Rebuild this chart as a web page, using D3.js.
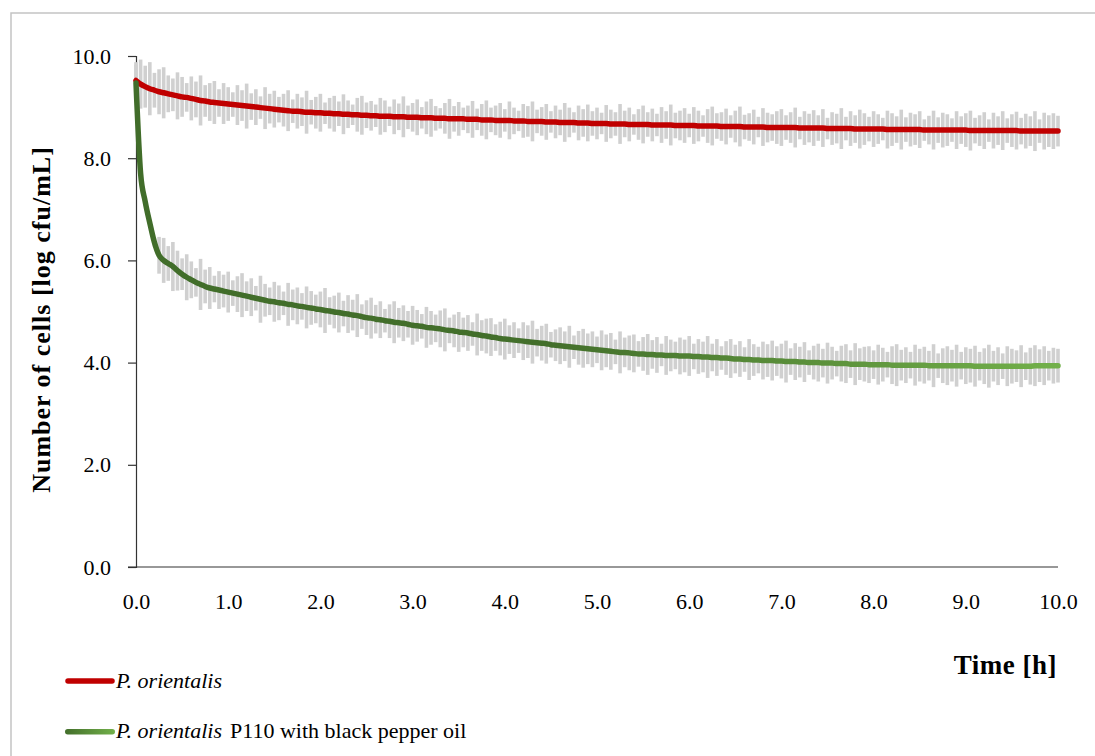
<!DOCTYPE html>
<html>
<head>
<meta charset="utf-8">
<script src="https://cdn.jsdelivr.net/npm/d3@7"></script>
<style>
  body { margin: 0; background: #fff; }
  svg { display: block; }
  svg text { font-family: "Liberation Serif", "Times New Roman", serif; }
</style>
</head>
<body>
<svg width="1095" height="756"></svg>
<script>
// one reading every 0.05 h (3 min), 0.0 .. 10.0 h
var stepH = 0.05;

// P. orientalis (control), log cfu/mL
var controlMean = [
  9.52, 9.45, 9.40, 9.36, 9.33, 9.30, 9.28, 9.26, 9.24, 9.22, 9.20, 9.19, 9.17, 9.15, 9.13, 9.12, 9.10, 9.09, 9.08, 9.07,
  9.06, 9.05, 9.04, 9.03, 9.02, 9.01, 9.00, 8.99, 8.98, 8.97, 8.96, 8.95, 8.94, 8.93, 8.92, 8.92, 8.91, 8.90, 8.90, 8.89,
  8.89, 8.88, 8.88, 8.87, 8.87, 8.86, 8.86, 8.85, 8.85, 8.84, 8.84, 8.83, 8.83, 8.82, 8.82, 8.82, 8.81, 8.81, 8.81, 8.80,
  8.80, 8.80, 8.79, 8.79, 8.79, 8.78, 8.78, 8.78, 8.77, 8.77, 8.77, 8.77, 8.76, 8.76, 8.76, 8.75, 8.75, 8.75, 8.74, 8.74,
  8.74, 8.74, 8.73, 8.73, 8.73, 8.72, 8.72, 8.72, 8.72, 8.71, 8.71, 8.71, 8.70, 8.70, 8.70, 8.70, 8.69, 8.69, 8.69, 8.68,
  8.68, 8.68, 8.68, 8.67, 8.67, 8.67, 8.67, 8.66, 8.66, 8.66, 8.66, 8.66, 8.65, 8.65, 8.65, 8.65, 8.65, 8.64, 8.64, 8.64,
  8.64, 8.64, 8.63, 8.63, 8.63, 8.63, 8.63, 8.62, 8.62, 8.62, 8.62, 8.62, 8.61, 8.61, 8.61, 8.61, 8.61, 8.60, 8.60, 8.60,
  8.60, 8.60, 8.60, 8.60, 8.59, 8.59, 8.59, 8.59, 8.59, 8.59, 8.58, 8.58, 8.58, 8.58, 8.58, 8.58, 8.57, 8.57, 8.57, 8.57,
  8.57, 8.57, 8.57, 8.56, 8.56, 8.56, 8.56, 8.56, 8.56, 8.56, 8.56, 8.55, 8.55, 8.55, 8.55, 8.55, 8.55, 8.55, 8.55, 8.55,
  8.55, 8.54, 8.54, 8.54, 8.54, 8.54, 8.54, 8.54, 8.54, 8.54, 8.54, 8.54, 8.53, 8.53, 8.53, 8.53, 8.53, 8.53, 8.53, 8.53,
  8.53
];
// standard deviation, hundredths of log cfu/mL
var controlSd = [
  36, 48, 41, 52, 34, 44, 50, 36, 32, 46, 39, 28, 43, 35, 49, 31, 37, 42, 27, 40,
  33, 24, 39, 30, 44, 26, 35, 22, 41, 29, 36, 25, 32, 40, 23, 34, 28, 42, 24, 31,
  37, 21, 30, 35, 24, 39, 27, 20, 33, 38, 25, 29, 22, 36, 31, 19, 34, 26, 40, 23,
  28, 35, 21, 32, 37, 24, 20, 30, 39, 25, 33, 22, 27, 36, 21, 31, 38, 24, 29, 34,
  22, 37, 26, 20, 33, 30, 39, 23, 28, 35, 21, 32, 25, 38, 29, 20, 34, 27, 36, 24,
  31, 21, 36, 28, 23, 39, 26, 33, 20, 30, 37, 24, 32, 22, 35, 27, 40, 25, 29, 34,
  23, 36, 30, 21, 33, 38, 25, 28, 35, 22, 31, 39, 24, 27, 34, 20, 37, 29, 26, 32,
  36, 24, 30, 39, 22, 33, 28, 35, 25, 37, 21, 32, 29, 40, 23, 34, 27, 38, 31, 24,
  35, 29, 22, 37, 32, 26, 39, 24, 33, 30, 36, 21, 28, 38, 25, 34, 31, 23, 37, 27,
  33, 39, 25, 30, 36, 22, 35, 28, 38, 24, 32, 37, 26, 34, 29, 39, 23, 36, 31, 35,
  30
];

// P. orientalis P110 with black pepper oil
var oilMean = [
  9.47, 7.70, 7.15, 6.73, 6.35, 6.10, 6.00, 5.94, 5.88, 5.80, 5.73, 5.67, 5.62, 5.57, 5.53, 5.49, 5.46, 5.44, 5.42, 5.40,
  5.38, 5.36, 5.34, 5.32, 5.30, 5.28, 5.26, 5.24, 5.22, 5.20, 5.19, 5.17, 5.16, 5.14, 5.13, 5.11, 5.10, 5.08, 5.07, 5.05,
  5.04, 5.02, 5.01, 4.99, 4.98, 4.96, 4.95, 4.93, 4.92, 4.90, 4.88, 4.87, 4.85, 4.84, 4.82, 4.81, 4.79, 4.78, 4.77, 4.75,
  4.73, 4.72, 4.71, 4.69, 4.68, 4.67, 4.66, 4.64, 4.63, 4.62, 4.60, 4.59, 4.58, 4.56, 4.55, 4.53, 4.52, 4.50, 4.49, 4.47,
  4.46, 4.45, 4.44, 4.43, 4.42, 4.41, 4.40, 4.39, 4.38, 4.37, 4.35, 4.34, 4.33, 4.32, 4.31, 4.30, 4.29, 4.28, 4.27, 4.26,
  4.25, 4.24, 4.23, 4.22, 4.21, 4.20, 4.20, 4.19, 4.18, 4.17, 4.17, 4.16, 4.16, 4.15, 4.15, 4.14, 4.14, 4.14, 4.13, 4.13,
  4.13, 4.12, 4.12, 4.11, 4.11, 4.10, 4.10, 4.09, 4.09, 4.08, 4.07, 4.07, 4.06, 4.06, 4.05, 4.05, 4.04, 4.04, 4.04, 4.03,
  4.03, 4.02, 4.02, 4.02, 4.01, 4.01, 4.00, 4.00, 4.00, 3.99, 3.99, 3.99, 3.98, 3.98, 3.98, 3.97, 3.97, 3.97, 3.97, 3.96,
  3.96, 3.96, 3.96, 3.96, 3.95, 3.95, 3.95, 3.95, 3.95, 3.95, 3.95, 3.95, 3.94, 3.94, 3.94, 3.94, 3.94, 3.94, 3.94, 3.94,
  3.94, 3.94, 3.93, 3.93, 3.93, 3.93, 3.93, 3.93, 3.93, 3.93, 3.93, 3.93, 3.93, 3.93, 3.93, 3.94, 3.94, 3.94, 3.94, 3.94,
  3.94
];
var oilSd = [
  36, 5, 5, 5, 8, 36, 44, 34, 48, 39, 31, 45, 36, 28, 50, 33, 41, 26, 37, 32,
  40, 25, 35, 43, 29, 37, 24, 46, 32, 27, 39, 34, 23, 42, 30, 36, 26, 41, 33, 28,
  35, 44, 27, 32, 39, 25, 37, 30, 42, 24, 34, 40, 28, 36, 23, 33, 41, 29, 35, 26,
  38, 31, 24, 40, 33, 27, 36, 42, 25, 32, 39, 29, 35, 23, 41, 30, 34, 37, 26, 33,
  40, 28, 35, 24, 37, 32, 42, 27, 34, 39, 25, 31, 36, 29, 41, 23, 33, 38, 30, 35,
  26, 39, 32, 36, 24, 41, 29, 34, 37, 25, 33, 40, 28, 35, 22, 38, 31, 27, 36, 32,
  39, 25, 34, 30, 41, 27, 36, 23, 33, 38, 28, 35, 24, 40, 31, 26, 37, 32, 39, 29,
  34, 41, 26, 36, 30, 39, 24, 33, 37, 28, 40, 32, 25, 35, 38, 27, 41, 31, 34, 36,
  28, 39, 33, 25, 37, 41, 30, 35, 26, 40, 32, 36, 29, 42, 24, 34, 38, 31, 41, 27,
  36, 33, 40, 28, 35, 42, 30, 37, 25, 39, 34, 31, 41, 27, 36, 40, 32, 38, 29, 35,
  33
];

var yTicks = [0, 2, 4, 6, 8, 10];
var xTicks = [0, 1, 2, 3, 4, 5, 6, 7, 8, 9, 10];

var svg = d3.select("svg"),
    margin = {top: 56, left: 136},
    width = 922,
    height = 511,
    g = svg.append("g").attr("transform", "translate(" + margin.left + "," + margin.top + ")");

// outer chart frame (runs off the right and bottom of the picture)
svg.append("rect")
    .attr("x", 11).attr("y", 13)
    .attr("width", 1200).attr("height", 900)
    .attr("fill", "none")
    .attr("stroke", "#c4c4c4")
    .attr("stroke-width", 1.5);

var x = d3.scaleLinear().domain([0, 10]).range([0, width]),
    y = d3.scaleLinear().domain([0, 10]).range([height, 0]);

function toRows(mean, sd) {
  return mean.map(function(m, i) { return {t: i * stepH, v: m, sd: sd[i] / 100}; });
}
var control = toRows(controlMean, controlSd),
    oil = toRows(oilMean, oilSd);

// gradient for the treated series
var defs = svg.append("defs");
var grad = defs.append("linearGradient")
    .attr("id", "greenGrad")
    .attr("gradientUnits", "userSpaceOnUse")
    .attr("x1", 0).attr("x2", width).attr("y1", 0).attr("y2", 0);
grad.append("stop").attr("offset", "0").attr("stop-color", "#416d2a");
grad.append("stop").attr("offset", "0.45").attr("stop-color", "#436f2b");
grad.append("stop").attr("offset", "1").attr("stop-color", "#72b04a");

var legGrad = defs.append("linearGradient").attr("id", "legGrad");
legGrad.append("stop").attr("offset", "0").attr("stop-color", "#436f2b");
legGrad.append("stop").attr("offset", "1").attr("stop-color", "#72b04a");

// y axis
var yAxis = g.append("g")
    .call(d3.axisLeft(y).tickValues(yTicks).tickSize(8).tickPadding(17).tickFormat(d3.format(".1f")));
yAxis.attr("font-family", null).attr("font-size", null);
yAxis.select(".domain").attr("stroke", "#333").attr("stroke-width", 1.2);
yAxis.selectAll(".tick line").attr("stroke", "#333").attr("stroke-width", 1.2);
yAxis.selectAll("text").attr("font-size", 22).attr("fill", "#000");

// x axis (line only, no tick marks)
var xAxis = g.append("g")
    .attr("transform", "translate(0," + height + ")")
    .call(d3.axisBottom(x).tickValues(xTicks).tickSize(0).tickPadding(26).tickFormat(d3.format(".1f")));
xAxis.attr("font-family", null).attr("font-size", null);
xAxis.select(".domain").attr("stroke", "#333").attr("stroke-width", 1.2)
    .attr("d", "M-8,0H" + width);
xAxis.selectAll("text").attr("font-size", 22).attr("fill", "#000");

// error bars
[control, oil].forEach(function(rows) {
  g.append("g").selectAll("line")
      .data(rows)
    .enter().append("line")
      .attr("x1", function(d) { return x(d.t); })
      .attr("x2", function(d) { return x(d.t); })
      .attr("y1", function(d) { return y(d.v + d.sd); })
      .attr("y2", function(d) { return y(d.v - d.sd); })
      .attr("stroke", "#d0d0d0")
      .attr("stroke-width", 3.6);
});

var line = d3.line()
    .curve(d3.curveMonotoneX)
    .x(function(d) { return x(d.t); })
    .y(function(d) { return y(d.v); });

g.append("path")
    .datum(control)
    .attr("fill", "none")
    .attr("stroke", "#c00000")
    .attr("stroke-width", 5.5)
    .attr("stroke-linejoin", "round")
    .attr("stroke-linecap", "round")
    .attr("d", line);

g.append("path")
    .datum(oil)
    .attr("fill", "none")
    .attr("stroke", "url(#greenGrad)")
    .attr("stroke-width", 5.5)
    .attr("stroke-linejoin", "round")
    .attr("stroke-linecap", "round")
    .attr("d", line);

// axis titles
svg.append("text")
    .attr("transform", "translate(50," + (margin.top + height / 2 + 8) + ") rotate(-90)")
    .attr("text-anchor", "middle")
    .attr("font-size", 26)
    .attr("font-weight", "bold")
    .attr("letter-spacing", 1)
    .text("Number of cells [log cfu/mL]");

svg.append("text")
    .attr("x", 1057).attr("y", 674)
    .attr("text-anchor", "end")
    .attr("font-size", 27)
    .attr("font-weight", "bold")
    .attr("letter-spacing", 0.5)
    .text("Time [h]");

// legend
var legend = svg.append("g");
legend.append("line")
    .attr("x1", 68).attr("x2", 112).attr("y1", 681).attr("y2", 681)
    .attr("stroke", "#c00000").attr("stroke-width", 5.5).attr("stroke-linecap", "round");
legend.append("text")
    .attr("x", 116).attr("y", 688)
    .attr("font-size", 22)
    .attr("font-style", "italic")
    .text("P. orientalis");

legend.append("rect")
    .attr("x", 65).attr("y", 729).attr("width", 50).attr("height", 5.5).attr("rx", 2.75)
    .attr("fill", "url(#legGrad)");
legend.append("text")
    .attr("x", 116).attr("y", 738)
    .attr("font-size", 22)
    .attr("font-style", "italic")
    .text("P. orientalis");
legend.append("text")
    .attr("x", 230).attr("y", 738)
    .attr("font-size", 22)
    .text("P110 with black pepper oil");
</script>
</body>
</html>
